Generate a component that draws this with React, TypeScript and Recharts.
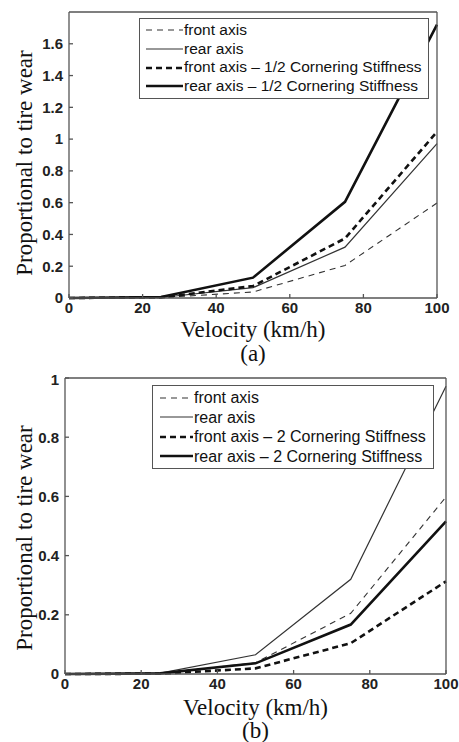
import { LineChart, Line, XAxis, YAxis, Legend, Label } from "recharts";

const velocity = [0, 25, 50, 75, 100];
const frontAxis = [0, 0.002, 0.038, 0.205, 0.598];
const rearAxis = [0, 0.003, 0.065, 0.32, 0.972];
const frontHalf = [0, 0.004, 0.075, 0.375, 1.046];
const rearHalf = [0, 0.006, 0.128, 0.605, 1.72];
const frontDouble = [0, 0.001, 0.019, 0.104, 0.313];
const rearDouble = [0, 0.002, 0.036, 0.167, 0.516];

const xTicks = [0, 20, 40, 60, 80, 100];
const yTicksA = [0, 0.2, 0.4, 0.6, 0.8, 1, 1.2, 1.4, 1.6];
const yTicksB = [0, 0.2, 0.4, 0.6, 0.8, 1];

const serif = "Liberation Serif, Times New Roman, serif";
const tickFont = { fill: "#222", fontSize: 15, fontWeight: 700, fontFamily: "Liberation Sans, Arial, sans-serif" };
const titleFont = { fill: "#111", fontSize: 23, fontFamily: serif, textAnchor: "middle" as const };
const frame = { stroke: "#555", strokeWidth: 1.3 };

type Style = { width: number; dash?: string; color: string };
const thinDash: Style = { width: 1.1, dash: "6 5", color: "#333" };
const thinSolid: Style = { width: 1.2, color: "#333" };
const thickDash: Style = { width: 2.6, dash: "6 4", color: "#111" };
const thickSolid: Style = { width: 2.6, color: "#111" };

type Series = { key: string; name: string; values: number[]; style: Style };

function LegendBox({ items, iconW, fontSize, rowH, padX }: { items: Series[]; iconW: number; fontSize: number; rowH: number; padX: number }) {
  return (
    <div
      style={{
        border: "1px solid #555",
        background: "#fff",
        padding: `2px ${padX}px 2px ${padX}px`,
        fontFamily: "Liberation Sans, Arial, sans-serif",
        fontSize,
        color: "#111",
        lineHeight: `${rowH}px`,
      }}
    >
      {items.map((s) => (
        <div key={s.key} style={{ display: "flex", alignItems: "center", whiteSpace: "nowrap" }}>
          <svg width={iconW} height={10} style={{ marginRight: 1 }}>
            <line
              x1={0}
              x2={iconW}
              y1={5}
              y2={5}
              stroke={s.style.color}
              strokeWidth={s.style.width}
              strokeDasharray={s.style.dash}
            />
          </svg>
          {s.name}
        </div>
      ))}
    </div>
  );
}

// rotated y title, placed from the axis viewBox
const yTitle = (offset: number, shift: number) => (props: any) => {
  const vb = props.viewBox || {};
  const x = vb.x - offset;
  const y = vb.y + vb.height / 2 + shift;
  return (
    <text
      x={x}
      y={y}
      transform={`rotate(-90 ${x} ${y})`}
      textAnchor="middle"
      dominantBaseline="central"
      fill="#111"
      fontSize={23}
      fontFamily={serif}
    >
      Proportional to tire wear
    </text>
  );
};

function Panel({
  series,
  yMax,
  yTicks,
  tag,
  margin,
  legendPos,
  legendFont,
  legendRow,
  legendPad,
  iconW,
  yLabelOffset,
  yLabelShift,
  xLabelOffset,
  tagOffset,
}: {
  series: Series[];
  yMax: number;
  yTicks: number[];
  tag: string;
  margin: { top: number; right: number; left: number; bottom: number };
  legendPos: { left: number; top: number };
  legendFont: number;
  legendRow: number;
  legendPad: number;
  iconW: number;
  yLabelOffset: number;
  yLabelShift: number;
  xLabelOffset: number;
  tagOffset: number;
}) {
  const data = velocity.map((v, i) => {
    const row: Record<string, number> = { v };
    series.forEach((s) => (row[s.key] = s.values[i]));
    return row;
  });
  return (
    <LineChart width={459} height={371} data={data} margin={margin}>
      <XAxis
        dataKey="v"
        type="number"
        domain={[0, 100]}
        ticks={xTicks}
        height={1}
        tickSize={-4}
        tickMargin={8}
        tick={tickFont}
        axisLine={frame}
        tickLine={frame}
      >
        <Label value="Velocity (km/h)" position="bottom" offset={xLabelOffset} style={titleFont} />
        <Label value={tag} position="bottom" offset={tagOffset} style={titleFont} />
      </XAxis>
      <XAxis
        xAxisId="top"
        orientation="top"
        dataKey="v"
        type="number"
        domain={[0, 100]}
        ticks={xTicks}
        height={1}
        tickSize={-4}
        tick={false}
        axisLine={frame}
        tickLine={frame}
      />
      <YAxis
        type="number"
        domain={[0, yMax]}
        ticks={yTicks}
        width={1}
        tickSize={-4}
        tickMargin={10}
        tick={tickFont}
        axisLine={frame}
        tickLine={frame}
      >
        <Label content={yTitle(yLabelOffset, yLabelShift)} />
      </YAxis>
      <YAxis
        yAxisId="right"
        orientation="right"
        type="number"
        domain={[0, yMax]}
        ticks={yTicks}
        width={1}
        tickSize={-4}
        tick={false}
        axisLine={frame}
        tickLine={frame}
      />
      <Legend
        layout="horizontal"
        verticalAlign="middle"
        align="center"
        content={() => (
          <LegendBox items={series} iconW={iconW} fontSize={legendFont} rowH={legendRow} padX={legendPad} />
        )}
        wrapperStyle={{ position: "absolute", left: legendPos.left, top: legendPos.top, width: "auto" }}
      />
      {series.map((s) => (
        <Line
          key={s.key}
          dataKey={s.key}
          name={s.name}
          stroke={s.style.color}
          strokeWidth={s.style.width}
          strokeDasharray={s.style.dash}
          dot={false}
          activeDot={false}
          isAnimationActive={false}
        />
      ))}
    </LineChart>
  );
}

const seriesA: Series[] = [
  { key: "front", name: "front axis", values: frontAxis, style: thinDash },
  { key: "rear", name: "rear axis", values: rearAxis, style: thinSolid },
  { key: "frontHalf", name: "front axis \u2013 1/2 Cornering Stiffness", values: frontHalf, style: thickDash },
  { key: "rearHalf", name: "rear axis \u2013 1/2 Cornering Stiffness", values: rearHalf, style: thickSolid },
];

const seriesB: Series[] = [
  { key: "front", name: "front axis", values: frontAxis, style: thinDash },
  { key: "rear", name: "rear axis", values: rearAxis, style: thinSolid },
  { key: "frontDouble", name: "front axis \u2013 2 Cornering Stiffness", values: frontDouble, style: thickDash },
  { key: "rearDouble", name: "rear axis \u2013 2 Cornering Stiffness", values: rearDouble, style: thickSolid },
];

export default function App() {
  return (
    <div style={{ position: "absolute", left: 0, top: 0, width: 459, height: 742, background: "#fff" }}>
      <Panel
        series={seriesA}
        yMax={1.8}
        yTicks={yTicksA}
        tag="(a)"
        margin={{ top: 11, right: 21, left: 68, bottom: 72 }}
        legendPos={{ left: 139, top: 18 }}
        legendFont={15.5}
        legendRow={18.7}
        legendPad={6}
        iconW={37}
        yLabelOffset={44}
        yLabelShift={8}
        xLabelOffset={22}
        tagOffset={46}
      />
      <Panel
        series={seriesB}
        yMax={1}
        yTicks={yTicksB}
        tag="(b)"
        margin={{ top: 6, right: 12, left: 64, bottom: 67 }}
        legendPos={{ left: 152, top: 14 }}
        legendFont={16}
        legendRow={19.5}
        legendPad={7}
        iconW={33}
        yLabelOffset={40}
        yLabelShift={12}
        xLabelOffset={24}
        tagOffset={47}
      />
    </div>
  );
}
